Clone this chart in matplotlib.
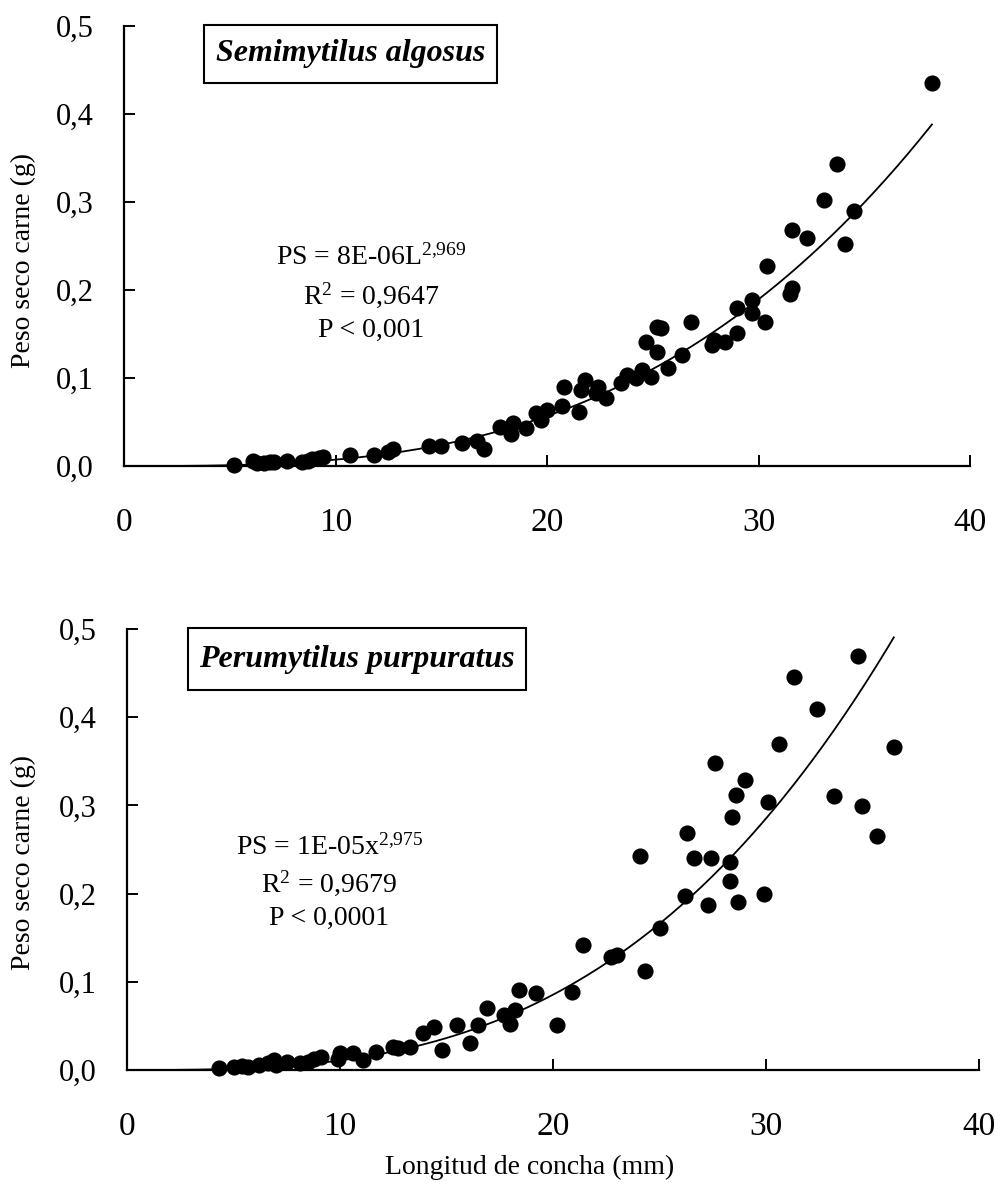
import matplotlib
matplotlib.use("Agg")
import matplotlib.pyplot as plt
from matplotlib.patches import Rectangle
import numpy as np

plt.rcParams['font.family'] = ['Liberation Serif', 'DejaVu Serif']
plt.rcParams['mathtext.fontset'] = 'custom'
plt.rcParams['mathtext.rm'] = 'Liberation Serif'
plt.rcParams['mathtext.it'] = 'Liberation Serif:italic'
plt.rcParams['mathtext.bf'] = 'Liberation Serif:bold'
plt.rcParams['mathtext.default'] = 'regular'

# ---------------- data ----------------
x_ticks = [0, 10, 20, 30, 40]
x_tick_labels = ["0", "10", "20", "30", "40"]
y_ticks = [0.0, 0.1, 0.2, 0.3, 0.4, 0.5]
y_tick_labels = ["0,0", "0,1", "0,2", "0,3", "0,4", "0,5"]

semi_len = [5.2, 6.1, 6.3, 6.6, 6.9, 7.1, 7.7, 8.4, 8.7, 8.9, 9.2, 9.4, 10.7, 11.8,
            12.5, 12.7, 14.4, 15.0, 16.0, 16.7, 17.0, 17.8, 18.4, 18.3, 19.0, 19.5,
            20.0, 19.7, 20.8, 20.7, 21.5, 21.8, 21.6, 22.4, 22.3, 22.8, 23.5, 23.8,
            24.2, 24.5, 24.9, 24.7, 25.2, 25.2, 25.4, 25.7, 26.4, 26.8, 27.8, 27.9,
            28.4, 29.0, 29.0, 29.7, 29.7, 30.3, 30.4, 31.5, 31.6, 31.6, 32.3, 33.1,
            33.7, 34.1, 34.5, 38.2]
semi_peso = [0.001, 0.006, 0.004, 0.004, 0.005, 0.005, 0.006, 0.005, 0.006, 0.008,
             0.009, 0.010, 0.0125, 0.0125, 0.016, 0.019, 0.023, 0.023, 0.026, 0.028,
             0.019, 0.044, 0.049, 0.036, 0.043, 0.060, 0.064, 0.052, 0.090, 0.068,
             0.062, 0.098, 0.086, 0.090, 0.083, 0.077, 0.094, 0.103, 0.100, 0.109,
             0.101, 0.141, 0.130, 0.158, 0.157, 0.111, 0.126, 0.164, 0.138, 0.143,
             0.141, 0.151, 0.180, 0.189, 0.174, 0.164, 0.228, 0.196, 0.202, 0.268,
             0.259, 0.303, 0.343, 0.252, 0.290, 0.435]

peru_len = [4.3, 5.0, 5.4, 5.7, 6.2, 6.6, 6.9, 7.0, 7.5, 8.1, 8.5, 8.8, 9.1, 9.9,
            10.0, 10.6, 11.1, 11.7, 12.5, 12.7, 13.3, 13.9, 14.4, 14.8, 15.5, 16.1,
            16.5, 16.9, 17.7, 18.0, 18.2, 18.4, 19.2, 20.2, 20.9, 21.4, 22.7, 23.0,
            24.1, 24.3, 25.0, 26.2, 26.3, 26.6, 27.3, 27.4, 27.6, 28.3, 28.3, 28.4,
            28.6, 28.7, 29.0, 29.9, 30.1, 30.6, 31.3, 32.4, 33.2, 34.3, 34.5, 35.2,
            36.0]
peru_peso = [0.002, 0.003, 0.005, 0.003, 0.006, 0.008, 0.011, 0.006, 0.009, 0.008,
             0.009, 0.013, 0.015, 0.013, 0.019, 0.019, 0.011, 0.020, 0.026, 0.025,
             0.026, 0.042, 0.049, 0.023, 0.051, 0.031, 0.051, 0.070, 0.062, 0.052,
             0.068, 0.091, 0.087, 0.051, 0.088, 0.142, 0.128, 0.130, 0.243, 0.112,
             0.161, 0.197, 0.269, 0.240, 0.187, 0.240, 0.348, 0.236, 0.214, 0.287,
             0.312, 0.191, 0.329, 0.200, 0.304, 0.370, 0.446, 0.409, 0.311, 0.469,
             0.299, 0.265, 0.366]

# power-law fits (as drawn): PS = a * L^b, drawn up to xmax
semi_fit = (7.8e-06, 2.969, 38.2)
peru_fit = (1.15e-05, 2.975, 36.0)

panels = [
    dict(rect=[0.124, 0.610, 0.846, 0.368], x=semi_len, y=semi_peso, fit=semi_fit,
         title="Semimytilus algosus", box=(0.0946, 0.870, 0.3465, 0.134),
         eq=["PS = 8E-06L$^{2{,}969}$", "R$^{2}$ = 0,9647", "P < 0,001"],
         eq_x=11.7, eq_y=[0.2375, 0.194, 0.1545], xlabel=False,
         ylab=(-0.104, 0.468)),
    dict(rect=[0.127, 0.1046, 0.852, 0.369], x=peru_len, y=peru_peso, fit=peru_fit,
         title="Perumytilus purpuratus", box=(0.0716, 0.862, 0.3967, 0.140),
         eq=["PS = 1E-05x$^{2{,}975}$", "R$^{2}$ = 0,9679", "P < 0,0001"],
         eq_x=9.5, eq_y=[0.253, 0.212, 0.172], xlabel=True,
         ylab=(-0.107, 0.47)),
]

fig = plt.figure(figsize=(10, 11.95), dpi=100)

for p in panels:
    ax = fig.add_axes(p["rect"])
    ax.set_xlim(0, 40)
    ax.set_ylim(0, 0.5)
    for s in ["top", "right"]:
        ax.spines[s].set_visible(False)
    for s in ["left", "bottom"]:
        ax.spines[s].set_linewidth(1.6)
    ax.set_xticks(x_ticks)
    ax.set_xticklabels(x_tick_labels, fontsize=24)
    ax.set_yticks(y_ticks)
    ax.set_yticklabels(y_tick_labels, fontsize=22)
    ax.tick_params(axis='x', direction='in', length=8, width=1.4, pad=30)
    ax.tick_params(axis='y', direction='in', length=8, width=1.4, pad=22)

    a, b, xmax = p["fit"]
    xs = np.linspace(0, xmax, 300)
    ax.plot(xs, a * xs ** b, color='black', lw=1.3, zorder=2)
    ax.scatter(p["x"], p["y"], s=135, color='black', zorder=3, clip_on=False,
               linewidths=0)

    bx, by, bw, bh = p["box"]
    ax.add_patch(Rectangle((bx, by), bw, bh, transform=ax.transAxes, fc='white',
                           ec='black', lw=1.5, clip_on=False, zorder=4))
    ax.text(bx + bw / 2, by + bh / 2, p["title"], transform=ax.transAxes,
            fontsize=23, fontweight='bold', fontstyle='italic', ha='center',
            va='center', zorder=5)

    for line, ly in zip(p["eq"], p["eq_y"]):
        ax.text(p["eq_x"], ly, line, fontsize=20, ha='center', va='center')

    ax.set_ylabel("Peso seco carne (g)", fontsize=20)
    ax.yaxis.set_label_coords(*p["ylab"])
    if p["xlabel"]:
        ax.set_xlabel("Longitud de concha (mm)", fontsize=20)
        ax.xaxis.set_label_coords(0.472, -0.192)

fig.savefig("out.png", dpi=100)
